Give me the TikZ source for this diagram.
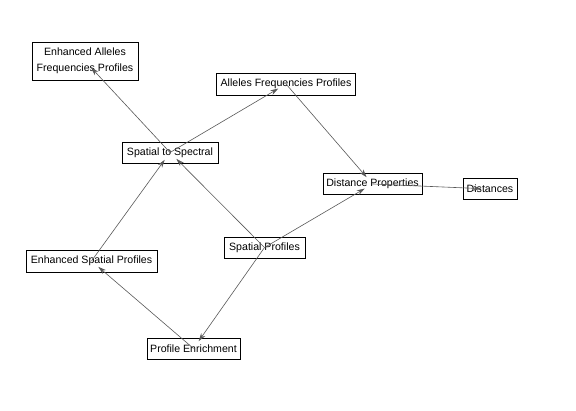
\documentclass[tikz,border=0pt]{standalone}
\usepackage{fontspec}
\setmainfont{Liberation Sans}
\usetikzlibrary{arrows.meta}
\begin{document}
\begin{tikzpicture}[x=1pt,y=-1pt,
  box/.style={draw=black,line width=0.8pt,fill=white,inner sep=0pt,font=\fontsize{10.6}{16.5}\selectfont,align=center},
  edge/.style={draw=black!65,line width=0.6pt,shorten >=9pt,-{Stealth[length=8pt,width=5pt]}}]
\useasboundingbox[fill=white] (0,0) rectangle (576,411);
\node[box,minimum width=106pt,minimum height=38pt] (eaf) at (85,61) {Enhanced Alleles\\Frequencies Profiles};
\node[box,minimum width=139pt,minimum height=22pt] (afp) at (286,84) {Alleles Frequencies Profiles};
\node[box,minimum width=96pt,minimum height=21pt] (s2s) at (170,152.5) {Spatial to Spectral};
\node[box,minimum width=99pt,minimum height=21pt] (dp) at (372.5,184) {Distance Properties};
\node[box,minimum width=54pt,minimum height=21pt] (dist) at (490,189) {Distances};
\node[box,minimum width=81pt,minimum height=21pt] (sp) at (264.5,247.5) {Spatial Profiles};
\node[box,minimum width=131pt,minimum height=22pt] (esp) at (91.5,261) {Enhanced Spatial Profiles};
\node[box,minimum width=93pt,minimum height=21pt] (pe) at (193.5,348.5) {Profile Enrichment};
\draw[edge] (sp.center) -- (s2s.center);
\draw[edge] (esp.center) -- (s2s.center);
\draw[edge] (s2s.center) -- (eaf.center);
\draw[edge] (s2s.center) -- (afp.center);
\draw[edge] (afp.center) -- (dp.center);
\draw[edge] (sp.center) -- (dp.center);
\draw[edge] (sp.center) -- (pe.center);
\draw[edge] (pe.center) -- (esp.center);
\draw[edge] (dp.center) -- (dist.center);
\end{tikzpicture}
\end{document}
